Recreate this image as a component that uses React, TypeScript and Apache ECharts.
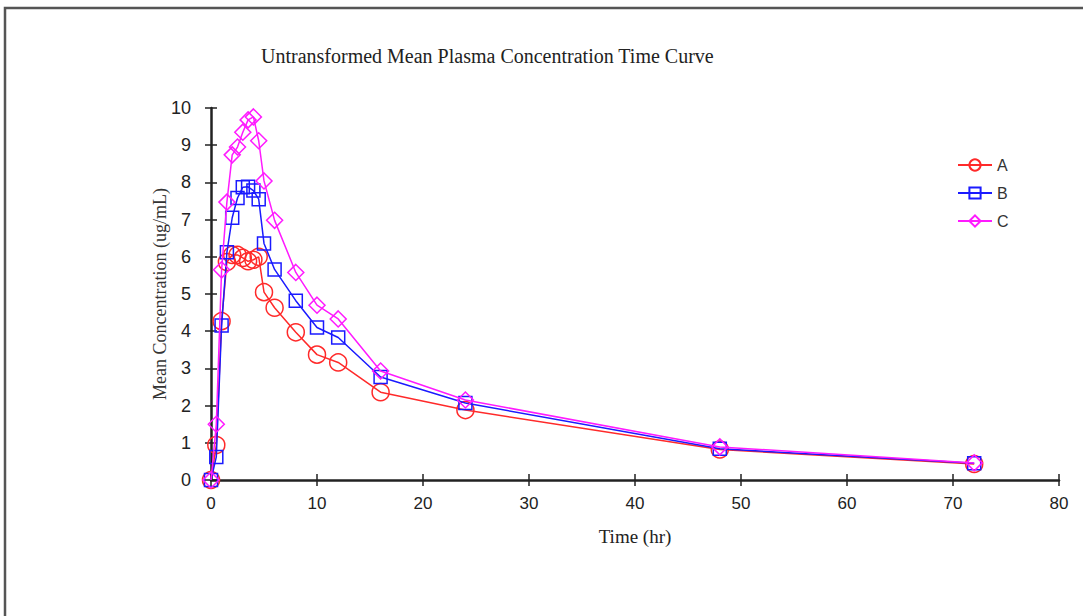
import React, { useEffect, useRef } from "react";
import * as echarts from "echarts";

const titleText = "Untransformed Mean Plasma Concentration Time Curve";
const xName = "Time (hr)";
const yName = "Mean Concentration (ug/mL)";
const seriesNames = ["A", "B", "C"];
const time = [0, 0.5, 1, 1.5, 2, 2.5, 3, 3.5, 4, 4.5, 5, 6, 8, 10, 12, 16, 24, 48, 72];
const valuesA = [0, 0.94, 4.27, 5.86, 6.05, 6.05, 5.97, 5.88, 5.92, 6.0, 5.05, 4.63, 3.97, 3.37, 3.16, 2.36, 1.88, 0.82, 0.43];
const valuesB = [0, 0.62, 4.15, 6.12, 7.05, 7.58, 7.87, 7.88, 7.78, 7.55, 6.36, 5.66, 4.82, 4.1, 3.83, 2.77, 2.07, 0.84, 0.45];
const valuesC = [0, 1.5, 5.65, 7.47, 8.74, 8.95, 9.35, 9.68, 9.76, 9.12, 8.04, 6.98, 5.58, 4.7, 4.33, 2.93, 2.15, 0.89, 0.46];

const colors = ["#ff2a2a", "#1a1aff", "#ff1aff"];
const symbols = ["circle", "rect", "diamond"];
const symbolSizes = [17, 13, 16];

export default function App() {
  const ref = useRef<HTMLDivElement>(null);
  useEffect(() => {
    document.body.style.margin = "0";
    if (!ref.current) return;
    const chart = echarts.init(ref.current, null, { renderer: "svg" });
    const allValues = [valuesA, valuesB, valuesC];
    const axisLine = { show: true, lineStyle: { color: "#222", width: 2.5 } };
    const grid = { left: 211, right: 24, top: 108, bottom: 136 };
    chart.setOption({
      animation: false,
      backgroundColor: "#ffffff",
      title: {
        text: titleText,
        left: 256,
        top: 41,
        textStyle: { fontFamily: "Liberation Serif", fontSize: 20, fontWeight: "normal", color: "#222" },
      },
      legend: {
        orient: "vertical",
        left: 952,
        top: 152,
        itemWidth: 34,
        itemHeight: 14,
        itemGap: 12,
        textStyle: { fontFamily: "Liberation Sans", fontSize: 16, color: "#333" },
        data: seriesNames,
      },
      grid: [grid, grid],
      xAxis: [
        {
          type: "value",
          gridIndex: 0,
          min: 0,
          max: 80,
          interval: 10,
          name: xName,
          nameLocation: "middle",
          nameGap: 47,
          nameMoveOverlap: false,
          nameTextStyle: { fontFamily: "Liberation Serif", fontSize: 19, color: "#222" },
          axisLine,
          axisTick: { show: true, length: 6, lineStyle: { color: "#222", width: 1.5 } },
          axisLabel: { fontFamily: "Liberation Sans Narrow, Liberation Sans", fontSize: 17, color: "#222", margin: 15 },
          splitLine: { show: false },
        },
        {
          type: "value",
          gridIndex: 1,
          min: 0,
          max: 80,
          interval: 10,
          axisLine: { show: false },
          axisTick: { show: true, inside: true, length: 6, lineStyle: { color: "#222", width: 1.5 } },
          axisLabel: { show: false },
          splitLine: { show: false },
        },
      ],
      yAxis: [
        {
          type: "value",
          gridIndex: 0,
          min: 0,
          max: 10,
          interval: 1,
          name: yName,
          nameLocation: "middle",
          nameGap: 42,
          nameMoveOverlap: false,
          nameTextStyle: { fontFamily: "Liberation Serif", fontSize: 18, color: "#333" },
          axisLine,
          axisTick: { show: true, length: 6, lineStyle: { color: "#222", width: 1.5 } },
          axisLabel: { fontFamily: "Liberation Sans", fontSize: 18, color: "#222", margin: 20 },
          splitLine: { show: false },
        },
        {
          type: "value",
          gridIndex: 1,
          min: 0,
          max: 10,
          interval: 1,
          axisLine: { show: false },
          axisTick: { show: true, inside: true, length: 6, lineStyle: { color: "#222", width: 1.5 } },
          axisLabel: { show: false },
          splitLine: { show: false },
        },
      ],
      series: seriesNames.map((name, i) => ({
        name,
        type: "line",
        xAxisIndex: 0,
        yAxisIndex: 0,
        data: time.map((t, j) => [t, allValues[i][j]]),
        symbol: symbols[i],
        symbolSize: symbolSizes[i],
        showAllSymbol: true,
        lineStyle: { color: colors[i], width: 1.5 },
        itemStyle: { color: "rgba(255,255,255,0)", borderColor: colors[i], borderWidth: 1.5 },
        z: 3 + i,
      })),
      graphic: [
        {
          type: "rect",
          shape: { x: 5, y: 8, width: 1200, height: 700 },
          style: { fill: "none", stroke: "#555", lineWidth: 2.5 },
          silent: true,
        },
      ],
    });
    return () => chart.dispose();
  }, []);
  return <div ref={ref} style={{ width: 1083, height: 616 }} />;
}
